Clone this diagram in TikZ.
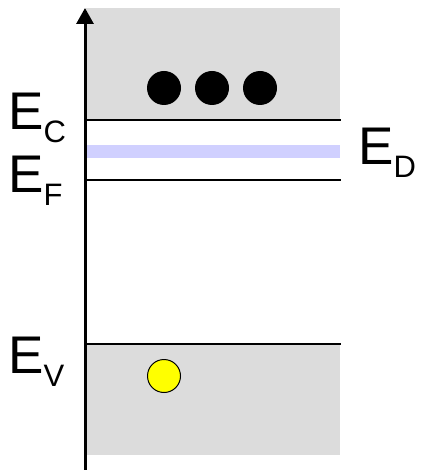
\documentclass[tikz,border=0pt]{standalone}
\usepackage{fontspec}
\setmainfont{Liberation Sans}
\usetikzlibrary{arrows.meta}
\definecolor{bandgray}{HTML}{DCDCDC}
\definecolor{donor}{HTML}{D0D0FF}
\definecolor{holefill}{HTML}{FFFF00}
\newcommand{\energy}[1]{{\fontsize{53}{53}\selectfont E}\raisebox{-13pt}{\fontsize{31}{31}\selectfont #1}}
\tikzset{
  level/.style={line width=2pt},
  band/.style={fill=bandgray, draw=none},
  elabel/.style={anchor=base west, inner sep=0pt, font=\fontsize{53}{53}\selectfont},
  electron/.style={circle, fill=black, minimum size=34pt, inner sep=0pt},
  hole/.style={circle, fill=holefill, draw=black, line width=1pt, minimum size=33pt, inner sep=0pt},
}
\begin{document}
\begin{tikzpicture}[x=1pt, y=-1pt]
\useasboundingbox (0,0) rectangle (420,470);
% conduction and valence bands
\fill[band] (86,8) rectangle (340,120);
\fill[band] (86,344) rectangle (340,455);
% donor level
\fill[donor] (86,145) rectangle (340,158);
% band edges and Fermi level
\coordinate (cL) at (85,120); \coordinate (cR) at (341,120);
\coordinate (fL) at (85,180); \coordinate (fR) at (341,180);
\coordinate (vL) at (85,344); \coordinate (vR) at (341,344);
\draw[level] (cL) -- (cR);
\draw[level] (fL) -- (fR);
\draw[level] (vL) -- (vR);
% energy axis
\coordinate (axbot) at (85,470);
\coordinate (axtop) at (85,8);
\draw[line width=3pt, -{Triangle[length=16pt,width=17pt]}] (axbot) -- (axtop);
% labels
\node[elabel] (lc) at (8,130) {\energy{C}};
\node[elabel] (lf) at (8,193) {\energy{F}};
\node[elabel] (ld) at (358,165) {\energy{D}};
\node[elabel] (lv) at (8,373) {\energy{V}};
% carriers
\node[electron] (e1) at (164,88) {};
\node[electron] (e2) at (212,88) {};
\node[electron] (e3) at (260,88) {};
\node[hole] (h1) at (164,376) {};
\end{tikzpicture}
\end{document}
